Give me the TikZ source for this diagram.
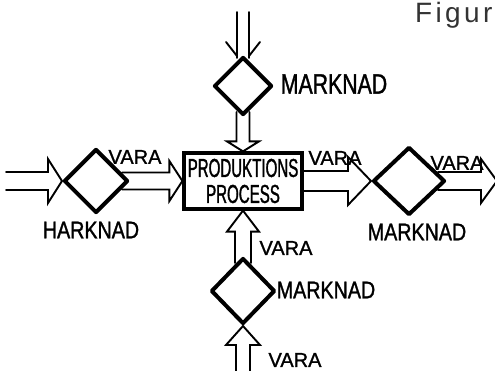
\documentclass[tikz,border=0pt]{standalone}
\usepackage{fontspec}
\setmainfont[FakeBold=1.2]{Liberation Sans}
\newfontfamily\handbox[FakeStretch=0.58,FakeBold=1.2]{Liberation Sans}
\newfontfamily\handmk[FakeStretch=0.82,FakeBold=1.2]{Liberation Sans}
\newfontfamily\handtop[FakeStretch=0.76,FakeBold=1.2]{Liberation Sans}
\newfontfamily\figfont[LetterSpace=12]{Liberation Sans}
\usetikzlibrary{shapes.geometric,calc}
\begin{document}
\begin{tikzpicture}[x=1pt,y=-1pt,
  mkt/.style={diamond,draw,line width=4pt,inner sep=0pt,line join=round},
  proc/.style={rectangle,draw,line width=3.2pt,inner sep=0pt,minimum width=118pt,
    minimum height=56pt,align=center,font=\handbox\fontsize{26}{26}\selectfont},
  flow/.style={line width=1.9pt,line join=miter,line cap=round},
  thin flow/.style={line width=1.9pt,line cap=round},
  vara/.style={font=\fontsize{20}{20}\selectfont,inner sep=0pt},
  marknad/.style={font=\handmk\fontsize{24}{24}\selectfont,inner sep=0pt},
]
\useasboundingbox[fill=white] (0,0) rectangle (495,371);

% production process and the four markets around it
\node[proc] (box) at (243,181) {PRODUKTIONS\\PROCESS};
\node[mkt,minimum width=64pt,minimum height=64pt] (ld) at (96,181) {};
\node[mkt,minimum width=72pt,minimum height=68pt] (rd) at (409,181) {};
\node[mkt,minimum width=58pt,minimum height=58pt] (td) at (243,86) {};
\node[mkt,minimum width=64pt,minimum height=66pt] (bd) at (243,291) {};

% free ends of the flows
\coordinate (lin) at (6,181);
\coordinate (rout) at (497,181);
\coordinate (tin) at (243,12);
\coordinate (bin) at (243,373);

% incoming goods from the left
\draw[flow] ($(lin)+(0,-9)$) -- ($(ld.west)+(-14,-9)$) -- ($(ld.west)+(-14,-22)$)
  -- (ld.west) -- ($(ld.west)+(-14,22)$) -- ($(ld.west)+(-14,9)$) -- ($(lin)+(0,9)$);
% left market into the process
\draw[flow] ($(ld.east)+(-8,-8.5)$) -- ($(box.west)+(-13,-8.5)$) -- ($(box.west)+(-13,-20)$)
  -- (box.west) -- ($(box.west)+(-13,20)$) -- ($(box.west)+(-13,8.5)$) -- ($(ld.east)+(-8,8.5)$);
% process out to the right market
\draw[flow] ($(box.east)+(0,-10)$) -- ($(rd.west)+(-23,-10)$) -- ($(rd.west)+(-23,-24)$)
  -- (rd.west) -- ($(rd.west)+(-23,24)$) -- ($(rd.west)+(-23,10)$) -- ($(box.east)+(0,10)$);
% right market outwards
\draw[flow] ($(rd.east)+(-9,-9)$) -- ($(rout)+(-16,-9)$) -- ($(rout)+(-16,-22)$)
  -- (rout) -- ($(rout)+(-16,22)$) -- ($(rout)+(-16,9)$) -- ($(rd.east)+(-9,9)$);

% double line into the top market
\draw[thin flow] ($(tin)+(-6,0)$) -- ($(td.north)+(-6,3)$);
\draw[thin flow] ($(tin)+(6,0)$) -- ($(td.north)+(6,3)$);
\draw[thin flow] ($(td.north)+(-17,-13)$) -- ($(td.north)+(-6,1)$);
\draw[thin flow] ($(td.north)+(17,-13)$) -- ($(td.north)+(6,1)$);
% top market down into the process
\draw[flow] ($(td.south)+(-6.5,-5)$) -- ($(box.north)+(-6.5,-10)$) -- ($(box.north)+(-16,-10)$)
  -- (box.north) -- ($(box.north)+(16,-10)$) -- ($(box.north)+(6.5,-10)$) -- ($(td.south)+(6.5,-5)$);
% bottom market up into the process
\draw[flow] ($(bd.north)+(-8,7)$) -- ($(box.south)+(-8,21)$) -- ($(box.south)+(-16,21)$)
  -- (box.south) -- ($(box.south)+(16,21)$) -- ($(box.south)+(8,21)$) -- ($(bd.north)+(8,7)$);
% incoming goods from below
\draw[flow] ($(bin)+(-7,0)$) -- ($(bd.south)+(-7,19)$) -- ($(bd.south)+(-17,19)$)
  -- (bd.south) -- ($(bd.south)+(17,19)$) -- ($(bd.south)+(7,19)$) -- ($(bin)+(7,0)$);

% labels
\node[marknad,font=\handtop\fontsize{28}{28}\selectfont] (m1) at (334,84) {MARKNAD};
\node[vara] (v1) at (135,157) {VARA};
\node[marknad] (m2) at (91,230) {HARKNAD};
\node[vara] (v2) at (335,158) {VARA};
\node[vara] (v3) at (457,163) {VARA};
\node[marknad] (m3) at (417,232) {MARKNAD};
\node[vara] (v4) at (286,248) {VARA};
\node[marknad] (m4) at (326,290) {MARKNAD};
\node[vara] (v5) at (295,360) {VARA};
\node[anchor=base west,inner sep=0pt,text=black!80,
  font=\figfont\fontsize{28}{28}\selectfont] (fig) at (415,23) {Figur};
\end{tikzpicture}
\end{document}
